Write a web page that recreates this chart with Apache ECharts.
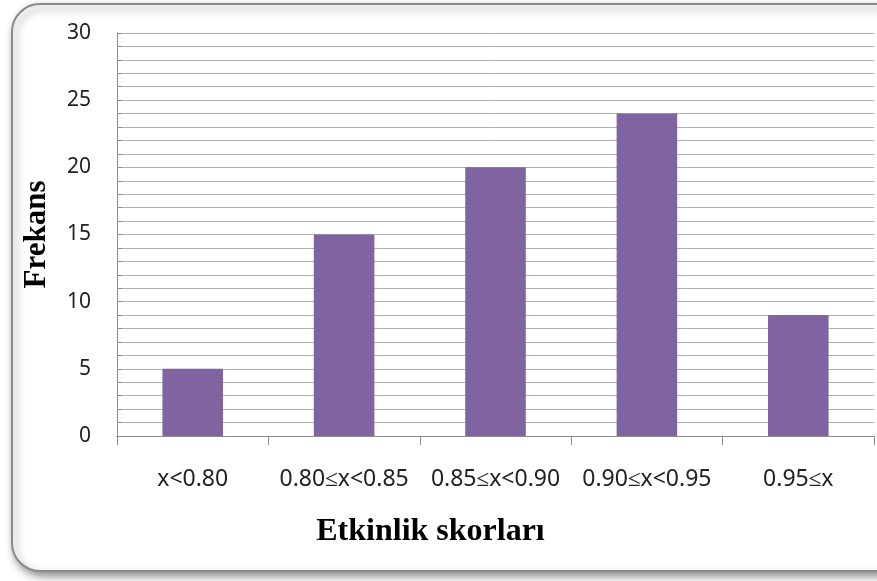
<!DOCTYPE html>
<html><head><meta charset="utf-8">
<script src="https://cdn.jsdelivr.net/npm/echarts@6/dist/echarts.min.js"></script>
<style>html,body{margin:0;padding:0;background:#fff}#c{width:877px;height:581px}</style>
</head><body><div id="c"></div>
<script>
const categories = ["x<0.80", "0.80≤x<0.85", "0.85≤x<0.90", "0.90≤x<0.95", "0.95≤x"];
const frequencies = [5, 15, 20, 24, 9];
const yTickLabels = [0, 5, 10, 15, 20, 25, 30];

const chart = echarts.init(document.getElementById('c'));
chart.setOption({
  animation: false,
  backgroundColor: '#fff',
  graphic: [{
    type: 'rect', z: -10,
    shape: { x: 12, y: 4, width: 900, height: 567, r: 28 },
    style: { fill: '#fff', stroke: '#8a8a8a', lineWidth: 2,
      shadowBlur: 8, shadowOffsetX: 3, shadowOffsetY: 4, shadowColor: 'rgba(0,0,0,0.45)' }
  }],
  grid: { left: 117, right: 3, top: 33, bottom: 145 },
  xAxis: {
    type: 'category', data: categories,
    name: 'Etkinlik skorları', nameLocation: 'middle', nameGap: 80,
    nameTextStyle: { fontFamily: 'Liberation Serif', fontWeight: 'bold', fontSize: 32, color: '#000',
      padding: [0, 130, 0, 0] },
    axisLine: { lineStyle: { color: '#8c8c8c', width: 1 } },
    axisTick: { show: true, length: 9, interval: 0, alignWithLabel: false, lineStyle: { color: '#8c8c8c' } },
    axisLabel: { fontFamily: 'Noto Sans', fontSize: 23, color: '#222', margin: 32, interval: 0 }
  },
  yAxis: {
    type: 'value', min: 0, max: 30, interval: 1,
    name: 'Frekans', nameLocation: 'middle', nameGap: 65, nameRotate: 90,
    nameTextStyle: { fontFamily: 'Liberation Serif', fontWeight: 'bold', fontSize: 31, color: '#000' },
    axisLine: { show: true, lineStyle: { color: '#8c8c8c' } },
    axisTick: { show: true, inside: true, length: 5, lineStyle: { color: '#8c8c8c' } },
    splitLine: { show: true, lineStyle: { color: '#b0b0b0', width: 1 } },
    axisLabel: {
      fontFamily: 'Noto Sans', fontSize: 21, color: '#222', margin: 26,
      formatter: v => yTickLabels.includes(v) ? String(v) : ''
    }
  },
  series: [{
    type: 'bar', data: frequencies, barWidth: '40%',
    itemStyle: { color: '#8064a2' }
  }]
});
</script></body></html>
